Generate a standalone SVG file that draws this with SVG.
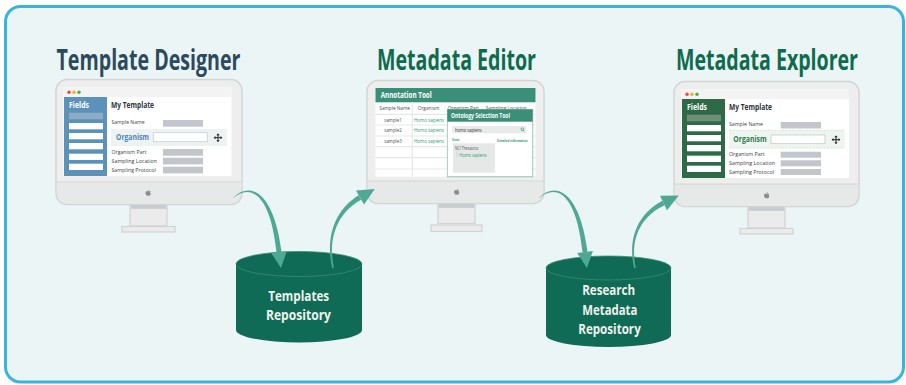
<svg xmlns="http://www.w3.org/2000/svg" xmlns:xlink="http://www.w3.org/1999/xlink" width="906" height="385" viewBox="0 0 906 385">
  <defs>
    <style>
      text { font-family: "Open Sans", "Liberation Sans", sans-serif; }
      .ttl { font-size: 28px; font-weight: 700; }
      .bezel { fill: #eeeeee; stroke: #d3d5d5; stroke-width: 1.5; }
      .chin { fill: #e7e8e8; }
      .sep { stroke: #d3d5d5; stroke-width: 1.2; }
      .neck { fill: #ebebeb; stroke: #d0d3d3; stroke-width: 1.2; }
      .band { fill: #c8cbcf; }
      .screen { fill: #ffffff; }
      .topbar { fill: #f3f3f3; }
      .row { fill: #ffffff; }
      .bar { fill: #c3c5cc; }
      .lbl { font-size: 5.3px; fill: #3a3f47; }
      .hd { font-size: 8px; font-weight: 700; }
      .cell { font-size: 5.3px; fill: #4a4f55; }
      .grn { fill: #2d9b6f; }
      .grid { stroke: #e6e8e8; stroke-width: 1.2; }
      .cyl { fill: #0f6b56; }
      .cyltop { fill: #0f6b56; stroke: #3a8a73; stroke-width: 0.8; }
      .cyltxt { font-size: 15px; font-weight: 700; fill: #f1f2ec; text-anchor: middle; }
      .arrow { fill: #4fa893; }
    </style>
    <symbol id="apple" viewBox="0 0 10 11">
      <path fill="#8b8e90" d="M5,3.2 C5.6,3.2 6.2,2.7 7,2.7 C7.8,2.7 8.5,3.1 8.9,3.7 C7.6,4.5 7.7,6.6 9.1,7.2 C8.6,8.7 7.7,10.2 6.6,10.2 C5.9,10.2 5.7,9.8 5,9.8 C4.3,9.8 4,10.2 3.4,10.2 C2.3,10.2 0.8,8 0.8,6 C0.8,4 2.1,2.8 3.3,2.8 C4,2.8 4.5,3.2 5,3.2 Z M5.1,2.5 C5,1.5 5.8,0.6 6.7,0.5 C6.8,1.5 6,2.5 5.1,2.5 Z"/>
    </symbol>
    <symbol id="move" viewBox="-5 -5 10 10">
      <path d="M0,-3.2 V3.2 M-3.2,0 H3.2" stroke="#222" stroke-width="1.1"/>
      <path fill="#222" d="M0,-5 L-1.8,-2.8 H1.8 Z M0,5 L-1.8,2.8 H1.8 Z M-5,0 L-2.8,-1.8 V1.8 Z M5,0 L2.8,-1.8 V1.8 Z"/>
    </symbol>
  </defs>

  <!-- outer panel -->
  <rect x="5.5" y="6.5" width="898" height="375.5" rx="15" fill="#ebf5f6" stroke="#37b5dc" stroke-width="3"/>

  <!-- titles -->
  <text class="ttl" x="56.5" y="70" fill="#2c4a5e" textLength="184" lengthAdjust="spacingAndGlyphs">Template Designer</text>
  <text class="ttl" x="377" y="70" fill="#0e6b4e" textLength="159" lengthAdjust="spacingAndGlyphs">Metadata Editor</text>
  <text class="ttl" x="676" y="70" fill="#0e6b4e" textLength="182" lengthAdjust="spacingAndGlyphs">Metadata Explorer</text>

  <!-- Template Designer workstation -->
  <g id="template-designer">
    <rect class="neck" x="130" y="204" width="37" height="22"/>
    <rect class="band" x="130.6" y="204.8" width="35.8" height="4"/>
    <rect class="neck" x="122" y="226.5" width="53" height="5.5"/>
    <rect class="bezel" x="56" y="79.5" width="186" height="125" rx="11"/>
    <path class="chin" d="M56.75,182 H241.25 V193.5 A11,11 0 0 1 230.25,203.75 H67.75 A11,11 0 0 1 56.75,193.5 Z"/>
    <line class="sep" x1="56.75" y1="182" x2="241.25" y2="182"/>
    <use xlink:href="#apple" x="145" y="189" width="6.5" height="7.5"/>
    <rect class="screen" x="63.5" y="87.5" width="168" height="88.5"/>
    <rect class="topbar" x="63.5" y="87.5" width="168" height="9.5"/>
    <circle cx="69" cy="92.2" r="1.7" fill="#e94b3c"/>
    <circle cx="74" cy="92.2" r="1.7" fill="#f2b215"/>
    <circle cx="79" cy="92.2" r="1.7" fill="#45b04a"/>
    <rect x="64" y="97" width="43" height="79" fill="#5a92ba"/>
    <text class="hd" x="69" y="108" fill="#ffffff" textLength="20" lengthAdjust="spacingAndGlyphs">Fields</text>
    <rect x="69" y="112.7" width="34" height="6.6" fill="#8eabc6"/>
    <rect class="row" x="69" y="123" width="34" height="6.3"/>
    <rect class="row" x="69" y="133" width="34" height="6.3"/>
    <rect class="row" x="69" y="143" width="34" height="6.3"/>
    <rect class="row" x="69" y="153.7" width="34" height="6.3"/>
    <rect class="row" x="69" y="163.7" width="34" height="6.3"/>
    <text class="hd" x="111" y="108" fill="#2d3440" textLength="43" lengthAdjust="spacingAndGlyphs">My Template</text>
    <text class="lbl" x="111.5" y="124.3" textLength="33" lengthAdjust="spacingAndGlyphs">Sample Name</text>
    <rect class="bar" x="163" y="120" width="40" height="6.7"/>
    <rect x="111" y="129" width="116" height="17" fill="#eff2f2"/>
    <text x="116" y="140" font-size="8.5" font-weight="700" fill="#4b87b9" textLength="33" lengthAdjust="spacingAndGlyphs">Organism</text>
    <rect x="153.3" y="132.7" width="54" height="9" fill="#ffffff" stroke="#b9cde0" stroke-width="0.7"/>
    <use xlink:href="#move" x="213.5" y="133.2" width="9" height="9"/>
    <text class="lbl" x="111.5" y="154.3" textLength="35" lengthAdjust="spacingAndGlyphs">Organism Part</text>
    <rect class="bar" x="163" y="149" width="40" height="6.7"/>
    <text class="lbl" x="111.5" y="162.6" textLength="45.6" lengthAdjust="spacingAndGlyphs">Sampling Location</text>
    <rect class="bar" x="163" y="157.7" width="40" height="6.7"/>
    <text class="lbl" x="111.5" y="171.7" textLength="44.3" lengthAdjust="spacingAndGlyphs">Sampling Protocol</text>
    <rect class="bar" x="163" y="166.7" width="40" height="6.7"/>
  </g>

  <!-- Metadata Editor workstation -->
  <g id="metadata-editor">
    <rect class="neck" x="438" y="203" width="37" height="20.5"/>
    <rect class="band" x="438.6" y="203.8" width="35.8" height="4"/>
    <rect class="neck" x="431" y="225" width="51" height="6.5"/>
    <rect class="bezel" x="367" y="80.5" width="177" height="123" rx="11"/>
    <path class="chin" d="M367.75,181 H543.25 V192.5 A11,11 0 0 1 532.25,202.75 H378.75 A11,11 0 0 1 367.75,192.5 Z"/>
    <line class="sep" x1="367.75" y1="181" x2="543.25" y2="181"/>
    <use xlink:href="#apple" x="453.5" y="188" width="6.5" height="7.5"/>
    <rect class="screen" x="375.5" y="88" width="160" height="88.7"/>
    <rect x="375.5" y="88" width="160" height="14.3" fill="#3b8f78"/>
    <text x="380.7" y="98" font-size="8.5" font-weight="700" fill="#ffffff" textLength="51" lengthAdjust="spacingAndGlyphs">Annotation Tool</text>
    <text class="cell" x="379.3" y="110" textLength="30.7" lengthAdjust="spacingAndGlyphs">Sample Name</text>
    <text class="cell" x="417.7" y="110" textLength="21.7" lengthAdjust="spacingAndGlyphs">Organism</text>
    <text class="cell" x="447.7" y="110" textLength="31.3" lengthAdjust="spacingAndGlyphs">Organism Part</text>
    <text class="cell" x="485.7" y="110" textLength="41" lengthAdjust="spacingAndGlyphs">Sampling Location</text>
    <g class="grid">
      <line x1="375.5" y1="114.3" x2="535.5" y2="114.3"/>
      <line x1="375.5" y1="125" x2="535.5" y2="125"/>
      <line x1="375.5" y1="136" x2="535.5" y2="136"/>
      <line x1="375.5" y1="146.7" x2="535.5" y2="146.7"/>
      <line x1="375.5" y1="157.7" x2="535.5" y2="157.7"/>
      <line x1="375.5" y1="169" x2="535.5" y2="169"/>
      <line x1="412.3" y1="102.3" x2="412.3" y2="176.7"/>
    </g>
    <text class="cell" x="393" y="121.6" text-anchor="middle" textLength="17.3" lengthAdjust="spacingAndGlyphs">sample1</text>
    <text class="cell" x="393" y="132.3" text-anchor="middle" textLength="17.3" lengthAdjust="spacingAndGlyphs">sample2</text>
    <text class="cell" x="393" y="143.2" text-anchor="middle" textLength="17.3" lengthAdjust="spacingAndGlyphs">sample3</text>
    <text class="cell grn" x="414" y="121.6" textLength="30" lengthAdjust="spacingAndGlyphs">Homo sapiens</text>
    <text class="cell grn" x="414" y="132.3" textLength="30" lengthAdjust="spacingAndGlyphs">Homo sapiens</text>
    <text class="cell grn" x="414" y="143.2" textLength="30" lengthAdjust="spacingAndGlyphs">Homo sapiens</text>
    <!-- ontology pop-up -->
    <rect x="448.3" y="110.3" width="85.4" height="67.4" fill="#000000" opacity="0.06"/>
    <rect x="447.3" y="109.3" width="85.4" height="67.4" fill="#ffffff" stroke="#8fc2b1" stroke-width="0.8"/>
    <rect x="447.3" y="109.3" width="85.4" height="12.4" fill="#3b8f78"/>
    <text x="451" y="117.6" font-size="6.3" font-weight="700" fill="#ffffff" textLength="59" lengthAdjust="spacingAndGlyphs">Ontology Selection Tool</text>
    <rect x="452.3" y="126" width="73.7" height="7.3" fill="#e9eaea"/>
    <text x="455" y="131.5" font-size="5" fill="#333333" textLength="26.7" lengthAdjust="spacingAndGlyphs">homo sapiens</text>
    <circle cx="522.3" cy="129.2" r="1.3" fill="none" stroke="#2d9b6f" stroke-width="0.7"/>
    <line x1="523.2" y1="130.1" x2="524.4" y2="131.3" stroke="#2d9b6f" stroke-width="0.8"/>
    <text class="grn" x="452.3" y="140.5" font-size="3.4" font-weight="700" textLength="7" lengthAdjust="spacingAndGlyphs">Results</text>
    <text class="grn" x="497" y="141.6" font-size="3.4" font-weight="700" textLength="30.7" lengthAdjust="spacingAndGlyphs">Detailed information</text>
    <rect x="453" y="143.3" width="42" height="29.4" fill="#e6e7e7"/>
    <text x="455" y="150" font-size="5" fill="#555555" textLength="23.3" lengthAdjust="spacingAndGlyphs">NCI Thesaurus</text>
    <path d="M456.8,151 V157.2" stroke="#c4c6c6" stroke-width="0.6"/>
    <text class="grn" x="459.3" y="157" font-size="5" textLength="27.3" lengthAdjust="spacingAndGlyphs">Homo sapiens</text>
  </g>

  <!-- Metadata Explorer workstation -->
  <g id="metadata-explorer" transform="translate(618,2)">
    <rect class="neck" x="130" y="204" width="37" height="22"/>
    <rect class="band" x="130.6" y="204.8" width="35.8" height="4"/>
    <rect class="neck" x="122" y="226.5" width="53" height="5.5"/>
    <rect class="bezel" x="56" y="79.5" width="185" height="125" rx="11"/>
    <path class="chin" d="M56.75,182 H240.25 V193.5 A11,11 0 0 1 229.25,203.75 H67.75 A11,11 0 0 1 56.75,193.5 Z"/>
    <line class="sep" x1="56.75" y1="182" x2="240.25" y2="182"/>
    <use xlink:href="#apple" x="145.5" y="189.5" width="6.5" height="7.5"/>
    <rect class="screen" x="63.5" y="87.5" width="167.5" height="88.5"/>
    <rect class="topbar" x="63.5" y="87.5" width="167.5" height="9.5"/>
    <circle cx="69" cy="92.2" r="1.7" fill="#e94b3c"/>
    <circle cx="74" cy="92.2" r="1.7" fill="#f2b215"/>
    <circle cx="79" cy="92.2" r="1.7" fill="#45b04a"/>
    <rect x="64" y="97" width="43" height="79" fill="#2d6a45"/>
    <text class="hd" x="69" y="108" fill="#ffffff" textLength="20" lengthAdjust="spacingAndGlyphs">Fields</text>
    <rect x="69" y="112.7" width="34" height="6.6" fill="#6f8f78"/>
    <rect class="row" x="69" y="123" width="34" height="6.3"/>
    <rect class="row" x="69" y="133" width="34" height="6.3"/>
    <rect class="row" x="69" y="143" width="34" height="6.3"/>
    <rect class="row" x="69" y="153.7" width="34" height="6.3"/>
    <rect class="row" x="69" y="163.7" width="34" height="6.3"/>
    <text class="hd" x="111" y="108" fill="#2d3440" textLength="43" lengthAdjust="spacingAndGlyphs">My Template</text>
    <text class="lbl" x="111" y="124.3" textLength="34" lengthAdjust="spacingAndGlyphs">Sample Name</text>
    <rect class="bar" x="162.7" y="120" width="40.3" height="6.5"/>
    <rect x="111" y="128" width="115.7" height="18.3" fill="#eef4ef"/>
    <line x1="111" y1="128.3" x2="226.7" y2="128.3" stroke="#c2dcc8" stroke-width="0.6" stroke-dasharray="2 1.5"/>
    <line x1="111" y1="146" x2="226.7" y2="146" stroke="#c2dcc8" stroke-width="0.6" stroke-dasharray="2 1.5"/>
    <text x="115.3" y="139.7" font-size="8.5" font-weight="700" fill="#2f7a4e" textLength="33.4" lengthAdjust="spacingAndGlyphs">Organism</text>
    <rect x="153" y="133" width="54" height="8.7" fill="#ffffff" stroke="#b8c9b9" stroke-width="0.7"/>
    <use xlink:href="#move" x="213.5" y="133.2" width="9" height="9"/>
    <text class="lbl" x="111" y="154.3" textLength="35.7" lengthAdjust="spacingAndGlyphs">Organism Part</text>
    <rect class="bar" x="162.7" y="149.7" width="40.3" height="6"/>
    <text class="lbl" x="111" y="163" textLength="46" lengthAdjust="spacingAndGlyphs">Sampling Location</text>
    <rect class="bar" x="162.7" y="158.3" width="40.3" height="6"/>
    <text class="lbl" x="111" y="171.7" textLength="45" lengthAdjust="spacingAndGlyphs">Sampling Protocol</text>
    <rect class="bar" x="162.7" y="167" width="40.3" height="6"/>
  </g>

  <!-- repositories -->
  <g id="templates-repository">
    <path class="cyl" d="M236,264 V330 A63,12.5 0 0 0 362,330 V264 Z"/>
    <ellipse class="cyltop" cx="299" cy="264" rx="63" ry="12.5"/>
    <text class="cyltxt" x="298.7" y="300.5" textLength="61" lengthAdjust="spacingAndGlyphs">Templates</text>
    <text class="cyltxt" x="298.5" y="319.5" textLength="65" lengthAdjust="spacingAndGlyphs">Repository</text>
  </g>
  <g id="research-metadata-repository">
    <path class="cyl" d="M546,268 V335 A62.5,12 0 0 0 671,335 V268 Z"/>
    <ellipse class="cyltop" cx="608.5" cy="268" rx="62.5" ry="12"/>
    <text class="cyltxt" x="608.7" y="294.5" textLength="53" lengthAdjust="spacingAndGlyphs">Research</text>
    <text class="cyltxt" x="609.8" y="314.5" textLength="55" lengthAdjust="spacingAndGlyphs">Metadata</text>
    <text class="cyltxt" x="609.5" y="334" textLength="62.5" lengthAdjust="spacingAndGlyphs">Repository</text>
  </g>

  <!-- connectors -->
  <g id="connectors" class="arrow">
    <!-- Template Designer -> Templates Repository -->
    <path d="M233.4,197.4 C249.85,181 273.8,191.2 281.5,251.7 L276.5,252.3 C270.2,192.8 250.15,183 232.6,198.6 Z"/>
    <path d="M280.9,267.9 L286.9,251.1 L271.1,252.9 Z"/>
    <!-- Templates Repository -> Metadata Editor -->
    <path d="M332.2,268.2 C324.8,234.9 336.5,208.7 358.8,195.3 L361.2,199.7 C339.5,211.3 327.2,235.1 333.8,267.8 Z"/>
    <path d="M374.8,189.1 L364,204.5 L356,190.5 Z"/>
    <!-- Metadata Editor -> Research Metadata Repository -->
    <g transform="translate(306,0)">
      <path d="M233.4,197.4 C249.85,181 273.8,191.2 281.5,251.7 L276.5,252.3 C270.2,192.8 250.15,183 232.6,198.6 Z"/>
      <path d="M280.9,267.9 L286.9,251.1 L271.1,252.9 Z"/>
    </g>
    <!-- Research Metadata Repository -> Metadata Explorer -->
    <path d="M634.2,268.2 C626.8,236.9 639.6,212.6 662.4,200.8 L664.6,205.2 C642.4,215.4 629.2,237.1 635.8,267.8 Z"/>
    <path d="M678.8,195.5 L667,210.2 L660,195.8 Z"/>
  </g>
</svg>
